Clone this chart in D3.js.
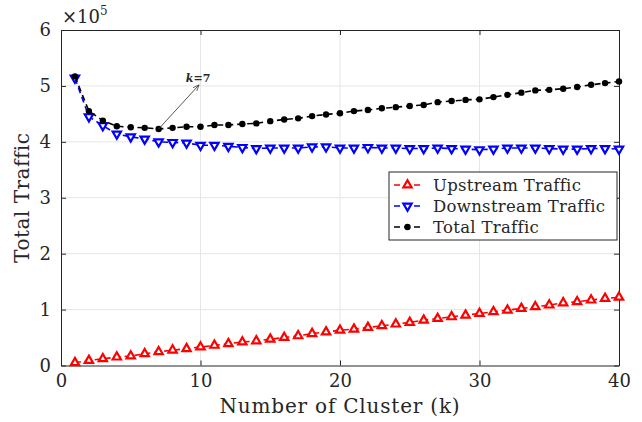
<!DOCTYPE html>
<html>
<head>
<meta charset="utf-8">
<script src="https://cdn.jsdelivr.net/npm/d3@7"></script>
<style>
  body { margin: 0; background: #fff; }
  svg text { font-family: "DejaVu Serif", serif; fill: #262626; }
</style>
</head>
<body>
<svg id="chart" width="642" height="422"></svg>
<script>
// cluster counts k = 1..40
const clusters = d3.range(1, 41);

// values in units of 1e5
const upstream = [
  0.05, 0.09, 0.12, 0.15, 0.17, 0.21, 0.245, 0.275, 0.30, 0.33,
  0.36, 0.39, 0.42, 0.44, 0.47, 0.50, 0.53, 0.57, 0.60, 0.63,
  0.65, 0.68, 0.71, 0.74, 0.77, 0.81, 0.84, 0.87, 0.90, 0.93,
  0.96, 0.99, 1.02, 1.05, 1.08, 1.12, 1.14, 1.17, 1.20, 1.22
];
const downstream = [
  5.14, 4.45, 4.29, 4.14, 4.09, 4.05, 4.00, 3.99, 3.98, 3.94,
  3.94, 3.92, 3.90, 3.88, 3.89, 3.89, 3.89, 3.91, 3.91, 3.89,
  3.89, 3.90, 3.89, 3.89, 3.88, 3.88, 3.89, 3.88, 3.87, 3.86,
  3.87, 3.89, 3.89, 3.89, 3.88, 3.87, 3.87, 3.88, 3.88, 3.87
];
const total = [
  5.17, 4.55, 4.38, 4.28, 4.26, 4.25, 4.23, 4.25, 4.27, 4.27,
  4.30, 4.30, 4.32, 4.33, 4.37, 4.40, 4.42, 4.46, 4.49, 4.51,
  4.55, 4.57, 4.60, 4.62, 4.64, 4.66, 4.71, 4.73, 4.75, 4.76,
  4.80, 4.84, 4.88, 4.92, 4.93, 4.95, 4.98, 5.02, 5.05, 5.08
];

const xTicks = [0, 10, 20, 30, 40];
const yTicks = [0, 1, 2, 3, 4, 5, 6];
const seriesNames = ["Upstream Traffic", "Downstream Traffic", "Total Traffic"];

// annotation: the minimum of total traffic
const annotK = 7;
const annotTip = [9.9, 5.02];

const svg = d3.select("#chart");
const margin = { top: 30, right: 23, bottom: 56.5, left: 61 };
const width = 642 - margin.left - margin.right;
const height = 422 - margin.top - margin.bottom;

const x = d3.scaleLinear().domain([0, 40]).range([0, width]);
const y = d3.scaleLinear().domain([0, 6]).range([height, 0]);

const g = svg.append("g").attr("transform", `translate(${margin.left},${margin.top})`);

// GRID
g.append("g").selectAll("line").data(xTicks.slice(1, -1)).join("line")
  .attr("x1", d => x(d)).attr("x2", d => x(d))
  .attr("y1", 0).attr("y2", height)
  .attr("stroke", "#e6e6e6").attr("stroke-width", 1);
g.append("g").selectAll("line").data(yTicks.slice(1, -1)).join("line")
  .attr("y1", d => y(d)).attr("y2", d => y(d))
  .attr("x1", 0).attr("x2", width)
  .attr("stroke", "#e6e6e6").attr("stroke-width", 1);

// AXES (ticks point inside, box on)
const styleAxis = (sel) => {
  sel.select(".domain").attr("stroke", "#262626").attr("stroke-width", 1);
  sel.selectAll(".tick line").attr("stroke", "#262626");
};
const styleLabels = (sel) => sel.selectAll("text")
  .attr("font-size", 18).attr("font-family", "DejaVu Serif").attr("fill", "#262626");

g.append("g").attr("transform", `translate(0,${height})`)
  .call(d3.axisBottom(x).tickValues(xTicks).tickSizeInner(-5).tickSizeOuter(0).tickPadding(9).tickFormat(d3.format("d")))
  .call(styleAxis).call(styleLabels);

g.append("g")
  .call(d3.axisTop(x).tickValues(xTicks).tickSizeInner(-5).tickSizeOuter(0).tickFormat(""))
  .call(styleAxis);

g.append("g")
  .call(d3.axisLeft(y).tickValues(yTicks).tickSizeInner(-5).tickSizeOuter(0).tickPadding(10).tickFormat(d3.format("d")))
  .call(styleAxis).call(styleLabels);

g.append("g").attr("transform", `translate(${width},0)`)
  .call(d3.axisRight(y).tickValues(yTicks).tickSizeInner(-5).tickSizeOuter(0).tickFormat(""))
  .call(styleAxis);

// exponent label
const expo = svg.append("text").attr("x", 62).attr("y", 23).attr("font-size", 18);
expo.append("tspan").text("×10");
expo.append("tspan").attr("dy", -8).attr("font-size", 12).text("5");

// AXIS TITLES
svg.append("text")
  .attr("x", margin.left + width / 2).attr("y", 413)
  .attr("text-anchor", "middle").attr("font-size", 20).attr("letter-spacing", 0.8)
  .text("Number of Cluster (k)");
svg.append("text")
  .attr("transform", `translate(29,${margin.top + height / 2}) rotate(-90)`)
  .attr("text-anchor", "middle").attr("font-size", 20).attr("letter-spacing", 0.5)
  .text("Total Traffic");

// SERIES
const series = [
  { name: seriesNames[0], values: upstream, color: "#ff0000", marker: "up" },
  { name: seriesNames[1], values: downstream, color: "#0000ff", marker: "down" },
  { name: seriesNames[2], values: total, color: "#000000", marker: "dot" }
];

const line = d3.line().x(d => x(d[0])).y(d => y(d[1]));
const triPath = d3.symbol().type(d3.symbolTriangle).size(30)();

const drawMarker = (sel, s) => {
  if (s.marker === "dot") {
    sel.append("circle").attr("r", 3.2).attr("fill", s.color);
  } else {
    sel.append("path").attr("d", triPath)
      .attr("transform", s.marker === "down" ? "rotate(180)" : null)
      .attr("fill", "#fff").attr("stroke", s.color).attr("stroke-width", 2.2)
      .attr("stroke-linejoin", "miter");
  }
};

series.forEach((s) => {
  const pts = clusters.map((k, i) => [k, s.values[i]]);
  g.append("path").datum(pts)
    .attr("d", line)
    .attr("fill", "none").attr("stroke", s.color)
    .attr("stroke-width", 1.6).attr("stroke-dasharray", "6,4");
  g.append("g").selectAll("g").data(pts).join("g")
    .attr("transform", d => `translate(${x(d[0])},${y(d[1])})`)
    .each(function () { drawMarker(d3.select(this), s); });
});

// ANNOTATION ARROW
svg.append("defs").append("marker")
  .attr("id", "arrow").attr("viewBox", "0 0 10 10")
  .attr("refX", 10).attr("refY", 5)
  .attr("markerWidth", 7).attr("markerHeight", 7)
  .attr("orient", "auto")
  .append("path").attr("d", "M0,1 L10,5 L0,9").attr("fill", "none")
  .attr("stroke", "#444").attr("stroke-width", 1.2);

g.append("line")
  .attr("x1", x(annotK)).attr("y1", y(total[annotK - 1]))
  .attr("x2", x(annotTip[0])).attr("y2", y(annotTip[1]))
  .attr("stroke", "#444").attr("stroke-width", 0.9)
  .attr("marker-end", "url(#arrow)");

const at = g.append("text")
  .attr("x", x(annotTip[0]) - 1).attr("y", y(annotTip[1]) - 3)
  .attr("text-anchor", "middle").attr("font-size", 11).attr("font-weight", "bold");
at.append("tspan").attr("font-style", "italic").text("k");
at.append("tspan").text("=7");

// LEGEND
const lg = svg.append("g").attr("transform", "translate(389,172)");
lg.append("rect").attr("width", 228).attr("height", 68)
  .attr("fill", "#fff").attr("stroke", "#262626").attr("stroke-width", 1);
series.forEach((s, i) => {
  const row = lg.append("g").attr("transform", `translate(0,${13 + i * 21})`);
  row.append("line").attr("x1", 5).attr("x2", 32)
    .attr("stroke", s.color).attr("stroke-width", 1.6).attr("stroke-dasharray", "6,4");
  row.append("g").attr("transform", "translate(18.5,0)").call(sel => drawMarker(sel, s));
  row.append("text").attr("x", 44).attr("y", 6).attr("font-size", 16.5).attr("letter-spacing", 0.3).text(s.name);
});
</script>
</body>
</html>
